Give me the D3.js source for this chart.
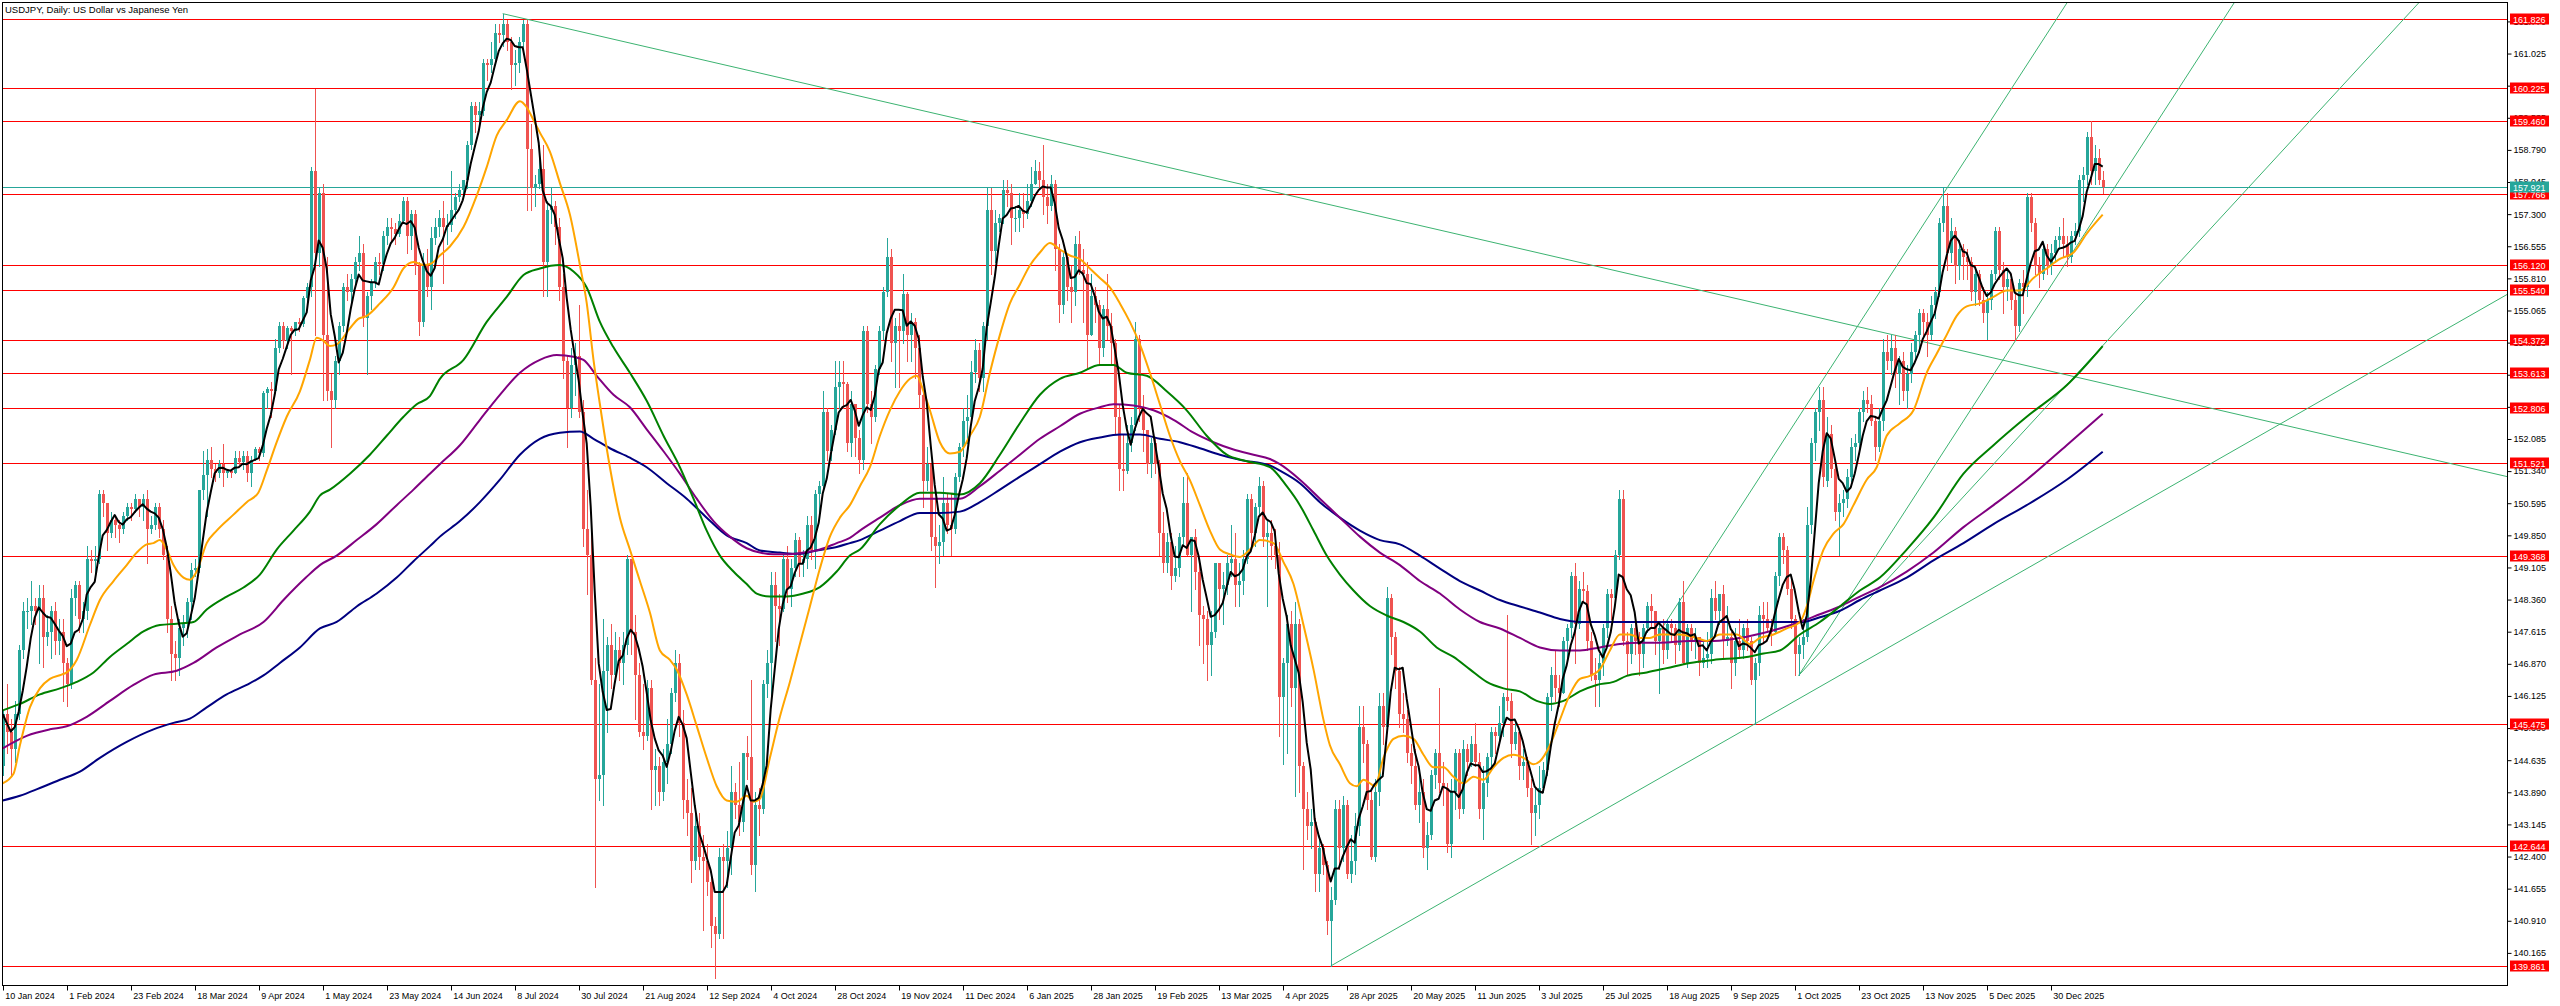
<!DOCTYPE html>
<html><head><meta charset="utf-8">
<script src="https://cdn.jsdelivr.net/npm/d3@7"></script>
<style>
html,body{margin:0;padding:0;background:#fff;}
svg{display:block;}
text{font-family:"Liberation Sans",Arial,sans-serif;}
</style></head><body>
<svg id="chart" width="2560" height="1006"></svg>
<script>
const title = "USDJPY, Daily:  US Dollar vs Japanese Yen";
const dateLabels = ["10 Jan 2024","1 Feb 2024","23 Feb 2024","18 Mar 2024","9 Apr 2024","1 May 2024","23 May 2024","14 Jun 2024","8 Jul 2024","30 Jul 2024","21 Aug 2024","12 Sep 2024","4 Oct 2024","28 Oct 2024","19 Nov 2024","11 Dec 2024","6 Jan 2025","28 Jan 2025","19 Feb 2025","13 Mar 2025","4 Apr 2025","28 Apr 2025","20 May 2025","11 Jun 2025","3 Jul 2025","25 Jul 2025","18 Aug 2025","9 Sep 2025","1 Oct 2025","23 Oct 2025","13 Nov 2025","5 Dec 2025","30 Dec 2025"];
const priceTicks = [140.165,140.910,141.655,142.400,143.145,143.890,144.635,145.380,146.125,146.870,147.615,148.360,149.105,149.850,150.595,151.340,152.085,152.830,153.575,154.320,155.065,155.810,156.555,157.300,158.045,158.790,159.535,160.280,161.025,161.770];
const levels = [161.826,160.225,159.460,157.766,156.120,155.540,154.372,153.613,152.806,151.521,149.368,145.475,142.644,139.861];
const lastPrice = 157.921;

// daily candles [open, high, low, close]
const m2024_01 = [[144.5,145.8,144.3,145.7],[145.7,146.4,144.8,145.3],[145.3,145.6,144.3,144.9],[144.9,146.0,144.6,145.7],[145.7,147.3,145.6,147.2],[147.2,148.3,147.0,148.1],[148.1,148.4,147.7,148.1],[148.1,148.8,147.8,148.2],[148.2,148.4,147.8,148.1],[148.1,148.7,146.9,148.4],[148.4,148.7,146.8,147.5],[147.5,148.0,147.3,147.6],[147.6,148.2,147.0,148.1],[148.1,148.3,147.1,147.4],[147.4,147.9,147.1,147.6],[147.6,147.9,146.0,146.9]];
const m2024_02 = [[146.9,147.0,145.9,146.4],[146.4,148.6,146.3,148.4],[148.4,148.8,148.0,148.7],[148.7,148.8,147.6,147.9],[147.9,148.3,147.6,148.1],[148.1,149.6,147.9,149.3],[149.3,149.5,149.0,149.25],[149.25,149.6,149.0,149.3],[149.3,150.9,149.2,150.8],[150.8,150.9,150.3,150.6],[150.6,150.6,149.5,149.9],[149.9,150.4,149.8,150.2],[150.2,150.3,149.8,150.1],[150.1,150.2,149.7,150.0],[150.0,150.4,149.9,150.3],[150.3,150.6,150.2,150.5],[150.5,150.6,150.2,150.45],[150.45,150.8,150.4,150.7],[150.7,150.7,150.3,150.5],[150.5,150.8,150.2,150.7],[150.7,150.9,149.2,150.0]];
const m2024_03 = [[150.0,150.3,149.9,150.1],[150.1,150.6,150.0,150.5],[150.5,150.6,149.8,150.0],[150.0,150.2,149.3,149.4],[149.4,149.6,147.6,147.9],[147.9,148.2,146.5,147.1],[147.1,147.4,146.5,147.0],[147.0,147.9,146.6,147.7],[147.7,148.0,147.3,147.8],[147.8,148.4,147.5,148.3],[148.3,149.2,147.9,149.05],[149.05,149.3,148.9,149.1],[149.1,150.9,149.0,150.9],[150.9,151.8,150.7,151.25],[151.25,151.85,150.3,151.6],[151.6,151.9,151.2,151.4],[151.4,151.5,151.1,151.3],[151.3,151.6,151.2,151.5],[151.5,151.97,151.0,151.3],[151.3,151.4,151.2,151.35],[151.35,151.4,151.2,151.3]];
const m2024_04 = [[151.3,151.8,151.3,151.65],[151.65,151.8,151.5,151.55],[151.55,151.8,151.4,151.7],[151.7,151.8,151.1,151.3],[151.3,151.7,151.0,151.6],[151.6,151.9,151.6,151.85],[151.85,151.9,151.6,151.75],[151.75,153.2,151.7,153.15],[153.15,153.3,152.8,153.25],[153.25,153.4,152.6,153.2],[153.2,154.4,153.2,154.2],[154.2,154.8,154.1,154.7],[154.7,154.8,154.2,154.35],[154.35,154.7,154.2,154.65],[154.65,154.7,153.6,154.6],[154.6,154.8,154.5,154.8],[154.8,154.9,154.6,154.75],[154.75,155.4,154.7,155.35],[155.35,155.7,155.1,155.6],[155.6,158.4,155.4,158.3],[158.3,160.2,154.5,156.4],[156.4,157.9,156.1,157.8]];
const m2024_05 = [[157.8,158.0,153.0,154.5],[154.5,156.3,153.0,153.2],[153.2,153.6,151.9,153.0],[153.0,154.0,152.8,153.9],[153.9,154.8,153.6,154.7],[154.7,155.7,154.6,155.6],[155.6,155.9,155.3,155.5],[155.5,155.9,155.2,155.8],[155.8,156.3,155.6,156.2],[156.2,156.8,156.0,156.4],[156.4,156.6,154.7,154.9],[154.9,155.5,153.6,155.4],[155.4,155.8,155.1,155.7],[155.7,156.3,155.6,156.2],[156.2,156.4,155.9,156.15],[156.15,156.9,156.0,156.8],[156.8,157.2,156.6,157.0],[157.0,157.2,156.7,156.95],[156.95,157.1,156.6,156.85],[156.85,157.3,156.8,157.15],[157.15,157.7,157.1,157.6],[157.6,157.7,156.4,156.8],[156.8,157.4,156.5,157.3]];
const m2024_06 = [[157.3,157.4,155.9,156.1],[156.1,156.2,154.5,154.8],[154.8,156.4,154.7,156.1],[156.1,156.5,155.4,155.6],[155.6,157.0,155.1,156.75],[156.75,157.2,156.6,157.0],[157.0,157.4,156.8,157.2],[157.2,157.6,155.7,157.0],[157.0,157.3,156.6,157.05],[157.05,158.3,156.9,157.4],[157.4,157.8,157.2,157.7],[157.7,158.0,157.6,157.85],[157.85,158.1,157.8,158.1],[158.1,159.0,157.9,158.9],[158.9,159.9,158.8,159.8],[159.8,159.9,159.2,159.6],[159.6,159.9,159.4,159.7],[159.7,160.9,159.6,160.8],[160.8,160.9,160.4,160.75],[160.75,161.3,160.6,160.9]];
const m2024_07 = [[160.9,161.7,160.8,161.5],[161.5,161.7,161.3,161.45],[161.45,161.95,161.2,161.7],[161.7,161.8,161.1,161.3],[161.3,161.4,160.2,160.75],[160.75,161.1,160.3,160.8],[160.8,161.4,160.6,161.3],[161.3,161.8,161.2,161.7],[161.7,161.8,157.4,158.8],[158.8,159.4,157.4,157.9],[157.9,158.2,157.5,158.0],[158.0,158.9,157.9,158.35],[158.35,158.9,155.4,156.2],[156.2,157.6,155.4,157.4],[157.4,157.9,157.1,157.5],[157.5,157.6,156.6,157.0],[157.0,157.2,155.3,155.6],[155.6,155.9,153.5,153.9],[153.9,154.0,151.9,152.8],[152.8,154.2,152.6,153.8],[153.8,154.3,153.1,154.0],[154.0,155.2,152.6,152.7],[152.7,153.0,149.6,150.0]];
const m2024_08 = [[150.0,150.9,148.5,149.4],[149.4,150.0,146.4,146.5],[146.5,147.0,141.7,144.2],[144.2,146.4,143.7,144.3],[144.3,147.9,143.6,146.7],[146.7,147.5,145.3,147.3],[147.3,147.8,146.3,146.6],[146.6,147.6,146.5,147.2],[147.2,147.5,146.5,146.9],[146.9,147.6,146.4,147.3],[147.3,149.4,147.1,149.3],[149.3,149.3,147.1,147.6],[147.6,148.0,145.6,146.6],[146.6,146.9,145.2,145.3],[145.3,146.4,144.9,145.2],[145.2,146.5,145.1,146.3],[146.3,146.5,143.5,144.4],[144.4,144.9,143.6,144.5],[144.5,144.7,143.6,143.9],[143.9,144.9,143.7,144.6],[144.6,145.6,144.1,145.0],[145.0,146.3,144.8,146.2]];
const m2024_09 = [[146.2,147.2,146.0,146.9],[146.9,147.1,145.2,145.5],[145.5,145.8,143.3,143.7],[143.7,144.2,142.9,143.4],[143.4,144.0,141.8,142.3],[142.3,143.6,142.1,143.1],[143.1,143.4,142.1,142.4],[142.4,142.9,140.7,142.3],[142.3,142.7,141.5,141.8],[141.8,141.9,140.3,140.8],[140.8,141.0,139.58,140.6],[140.6,142.6,140.5,142.4],[142.4,142.7,140.5,142.3],[142.3,143.0,141.7,142.6],[142.6,144.5,142.0,143.9],[143.9,144.1,143.3,143.6],[143.6,144.6,142.9,143.2],[143.2,144.8,143.0,144.8],[144.8,145.2,144.2,144.7],[144.7,146.5,142.0,142.2],[142.2,143.9,141.6,143.6]];
const m2024_10 = [[143.6,144.0,142.9,143.5],[143.5,146.5,143.4,146.4],[146.4,147.2,146.1,146.9],[146.9,149.0,145.9,148.7],[148.7,149.0,147.4,148.2],[148.2,148.5,147.3,148.15],[148.15,149.4,148.1,149.3],[149.3,149.6,148.3,148.6],[148.6,149.3,148.2,149.1],[149.1,149.9,148.9,149.75],[149.75,149.8,148.9,149.2],[149.2,149.5,148.9,149.3],[149.3,150.3,149.1,150.1],[150.1,150.3,149.3,149.5],[149.5,150.9,149.1,150.8],[150.8,151.1,150.3,151.0],[151.0,153.2,150.9,152.7],[152.7,152.8,151.6,151.8],[151.8,152.4,151.6,152.3],[152.3,153.9,152.2,153.3],[153.3,153.9,152.8,153.4],[153.4,153.9,152.8,153.35],[153.35,153.4,151.8,152.0]];
const m2024_11 = [[152.0,153.2,151.7,152.9],[152.9,152.9,151.7,152.1],[152.1,152.3,151.3,151.6],[151.6,154.7,151.4,154.6],[154.6,154.7,152.7,152.9],[152.9,153.2,152.0,152.6],[152.6,153.8,152.5,153.7],[153.7,154.7,153.6,154.6],[154.6,155.6,154.4,155.5],[155.5,156.75,155.4,156.3],[156.3,156.5,153.9,154.3],[154.3,154.9,153.3,154.7],[154.7,155.0,153.3,154.6],[154.6,155.9,154.3,155.45],[155.45,155.5,153.9,154.5],[154.5,155.0,153.9,154.8],[154.8,154.9,153.5,154.2],[154.2,154.5,152.8,153.1],[153.1,153.2,150.5,151.1],[151.1,151.9,150.9,151.5],[151.5,151.5,149.5,149.8]];
const m2024_12 = [[149.8,150.7,148.65,149.6],[149.6,150.1,149.2,149.7],[149.7,151.2,149.4,150.6],[150.6,150.8,149.9,150.1],[150.1,150.8,149.4,150.0],[150.0,151.3,149.9,151.2],[151.2,152.0,151.1,151.9],[151.9,152.8,151.7,152.5],[152.5,153.1,152.0,152.6],[152.6,153.9,152.6,153.65],[153.65,154.4,153.4,154.15],[154.15,154.3,153.2,153.5],[153.5,154.8,153.2,154.7],[154.7,157.9,154.4,157.4],[157.4,157.9,155.9,156.45],[156.45,157.4,156.2,157.1],[157.1,157.3,156.9,157.2],[157.2,158.1,157.1,157.85],[157.85,158.1,157.5,157.8],[157.8,158.0,156.6,157.2],[157.2,157.5,156.9,157.2]];
const m2025_01 = [[157.2,157.8,156.9,157.4],[157.4,157.8,157.0,157.3],[157.3,158.0,157.2,157.6],[157.6,158.4,157.5,158.0],[158.0,158.55,158.0,158.3],[158.3,158.5,157.9,158.1],[158.1,158.9,157.3,157.7],[157.7,158.0,157.1,157.5],[157.5,158.2,157.4,158.0],[158.0,158.1,156.0,156.5],[156.5,156.6,154.8,155.2],[155.2,156.4,155.0,156.3],[156.3,156.4,155.3,155.6],[155.6,156.1,154.8,155.5],[155.5,156.8,155.2,156.6],[156.6,156.9,155.9,156.0],[156.0,156.5,154.8,155.9],[155.9,156.2,153.7,154.5],[154.5,155.9,154.5,155.4],[155.4,155.6,154.8,155.2],[155.2,155.3,153.8,154.2],[154.2,155.2,154.0,155.1]];
const m2025_02 = [[155.1,155.9,154.4,154.7],[154.7,155.0,153.8,154.3],[154.3,154.4,152.2,152.6],[152.6,152.9,150.9,151.4],[151.4,152.2,150.9,151.35],[151.35,152.4,151.3,152.0],[152.0,152.6,151.8,152.4],[152.4,154.8,152.3,154.4],[154.4,154.5,152.5,152.8],[152.8,153.1,151.8,152.3],[152.3,152.3,151.3,151.5],[151.5,152.1,151.2,152.0],[152.0,152.1,151.3,151.5],[151.5,151.6,149.4,149.9],[149.9,150.4,149.0,149.2],[149.2,149.9,149.0,149.7],[149.7,149.9,148.6,148.9],[148.9,149.6,148.8,149.1],[149.1,149.9,148.9,149.8],[149.8,151.2,149.6,150.6]];
const m2025_03 = [[150.6,151.3,149.4,149.4],[149.4,149.8,148.1,149.8],[149.8,150.0,148.6,149.0],[149.0,149.3,147.3,148.0],[148.0,148.2,146.9,147.9],[147.9,148.1,146.5,147.3],[147.3,148.1,146.6,147.6],[147.6,149.2,147.5,149.2],[149.2,149.2,147.9,148.6],[148.6,149.0,147.8,148.7],[148.7,149.4,148.5,149.2],[149.2,150.1,148.9,149.3],[149.3,149.9,148.2,148.7],[148.7,149.2,148.2,148.8],[148.8,149.5,148.5,149.3],[149.3,150.8,149.2,150.7],[150.7,150.8,149.6,149.9],[149.9,150.6,149.6,150.5],[150.5,151.2,150.3,151.0],[151.0,151.1,149.6,149.8],[149.8,150.2,148.2,149.9]];
const m2025_04 = [[149.9,150.2,149.3,149.6],[149.6,150.0,149.1,149.4],[149.4,149.7,145.2,146.1],[146.1,147.0,144.55,146.9],[146.9,148.0,144.8,147.8],[147.8,148.1,145.9,146.3],[146.3,148.3,143.8,147.8],[147.8,147.9,143.9,144.5],[144.5,144.6,142.1,143.5],[143.5,143.9,142.8,143.1],[143.1,143.5,142.6,143.2],[143.2,143.3,141.6,142.0],[142.0,142.9,141.6,142.6],[142.6,142.7,142.0,142.2],[142.2,142.3,140.6,140.9],[140.9,141.7,139.861,141.4],[141.4,143.7,141.3,143.5],[143.5,143.7,142.1,142.6],[142.6,143.8,142.3,143.6],[143.6,143.7,141.9,142.0],[142.0,142.9,141.8,142.3],[142.3,143.4,142.0,143.1]];
const m2025_05 = [[143.1,145.9,142.9,145.4],[145.4,145.9,144.6,145.0],[145.0,145.1,143.5,143.7],[143.7,144.0,142.35,142.4],[142.4,144.2,142.3,143.9],[143.9,146.2,143.6,145.9],[145.9,146.2,145.0,145.4],[145.4,148.65,145.4,148.4],[148.4,148.5,147.1,147.5],[147.5,147.6,146.3,146.7],[146.7,146.8,145.4,145.7],[145.7,146.2,145.3,145.6],[145.6,145.8,144.6,144.8],[144.8,145.0,144.1,144.5],[144.5,144.9,143.5,143.6],[143.6,144.3,143.2,143.9],[143.9,144.2,142.4,142.6],[142.6,143.2,142.1,142.9],[142.9,144.4,142.8,144.3],[144.3,144.9,144.0,144.8],[144.8,146.3,143.9,144.1],[144.1,144.6,143.6,144.0]];
const m2025_06 = [[144.0,144.1,142.5,142.7],[142.7,144.2,142.4,143.9],[143.9,144.9,143.5,144.8],[144.8,144.9,143.3,143.5],[143.5,145.1,143.4,144.9],[144.9,145.0,144.3,144.6],[144.6,145.2,144.5,145.0],[145.0,145.5,144.5,144.6],[144.6,144.8,143.3,143.5],[143.5,144.5,142.8,144.1],[144.1,144.8,143.8,144.7],[144.7,145.4,144.5,145.3],[145.3,145.4,144.8,145.2],[145.2,145.9,145.0,145.5],[145.5,146.2,145.2,146.1],[146.1,148.0,145.8,146.0],[146.0,146.2,144.7,145.0],[145.0,145.5,144.9,145.3],[145.3,145.3,144.2,144.5],[144.5,144.9,144.2,144.6],[144.6,144.7,143.8,144.0]];
const m2025_07 = [[144.0,144.2,142.7,143.4],[143.4,144.0,142.9,143.6],[143.6,144.5,143.3,144.0],[144.0,144.6,143.9,144.4],[144.4,146.2,144.3,146.1],[146.1,146.8,145.8,146.6],[146.6,147.2,146.0,146.3],[146.3,146.6,145.9,146.2],[146.2,147.5,146.2,147.4],[147.4,147.8,146.9,147.7],[147.7,149.0,147.5,148.9],[148.9,149.2,146.9,147.8],[147.8,148.8,147.7,148.6],[148.6,149.0,148.3,148.55],[148.55,148.7,147.2,147.4],[147.4,147.6,146.5,146.6],[146.6,147.0,145.9,146.5],[146.5,147.1,145.9,146.9],[146.9,147.8,146.6,147.7],[147.7,148.6,147.5,148.5],[148.5,148.6,147.9,148.4],[148.4,149.5,148.3,149.4],[149.4,150.9,149.3,150.7]];
const m2025_08 = [[150.7,150.9,147.3,147.4],[147.4,147.6,146.6,147.1],[147.1,147.8,146.9,147.7],[147.7,148.0,147.1,147.4],[147.4,147.6,146.6,147.1],[147.1,147.8,146.8,147.7],[147.7,148.3,147.6,148.2],[148.2,148.5,147.7,148.1],[148.1,148.1,147.1,147.4],[147.4,147.8,146.2,147.7],[147.7,147.9,146.9,147.2],[147.2,147.9,147.0,147.8],[147.8,147.9,147.4,147.7],[147.7,147.8,146.9,147.3],[147.3,148.4,147.2,148.3],[148.3,148.8,146.9,146.9],[146.9,147.8,146.8,147.7],[147.7,147.8,147.2,147.4],[147.4,147.7,147.0,147.5],[147.5,147.5,146.6,146.9],[146.9,147.4,146.8,147.0]];
const m2025_09 = [[147.0,147.6,146.8,147.1],[147.1,148.6,146.9,148.4],[148.4,148.8,147.9,148.1],[148.1,148.5,147.8,148.5],[148.5,148.7,147.0,147.4],[147.4,148.2,147.3,147.5],[147.5,147.6,146.3,146.9],[146.9,147.7,146.6,147.4],[147.4,147.9,147.0,147.2],[147.2,147.8,147.0,147.7],[147.7,147.9,147.2,147.4],[147.4,147.5,146.4,146.5],[146.5,147.0,145.475,146.9],[146.9,148.2,146.6,148.0],[148.0,148.3,147.4,147.9],[147.9,148.3,147.6,147.7],[147.7,147.9,147.3,147.6],[147.6,149.0,147.6,148.9],[148.9,149.9,148.7,149.8],[149.8,149.9,149.2,149.5],[149.5,149.6,148.5,148.6],[148.6,148.9,147.7,147.9]];
const m2025_10 = [[147.9,148.0,146.6,147.1],[147.1,147.5,146.6,147.3],[147.3,147.9,147.0,147.5],[147.5,150.5,147.4,150.1],[150.1,152.1,149.9,152.0],[152.0,152.8,151.6,152.7],[152.7,153.3,152.3,153.0],[153.0,153.3,151.0,151.2],[151.1,152.6,151.0,152.2],[152.2,152.4,151.2,151.4],[151.4,151.6,150.2,150.4],[150.4,150.8,149.4,150.6],[150.6,150.9,150.3,150.7],[150.7,151.4,150.5,151.2],[151.2,152.1,151.1,151.9],[151.9,152.2,151.6,152.0],[152.0,152.8,151.8,152.7],[152.7,153.2,152.5,153.0],[153.0,153.3,152.7,152.9],[152.9,153.1,152.4,152.5],[152.5,152.6,151.6,151.9],[151.9,152.8,151.8,152.5],[152.5,154.4,152.3,154.1]];
const m2025_11 = [[154.1,154.5,153.7,153.9],[153.9,154.5,153.6,154.2],[154.2,154.5,153.3,153.6],[153.6,154.0,152.9,153.9],[153.9,154.1,153.0,153.2],[153.2,153.8,152.8,153.6],[153.6,154.3,153.4,154.1],[154.1,154.6,153.9,154.5],[154.5,155.1,154.1,155.0],[155.0,155.1,154.5,154.8],[154.8,155.0,154.0,154.5],[154.5,155.4,154.4,155.2],[155.2,155.6,154.9,155.5],[155.5,157.2,155.4,157.1],[157.1,157.9,156.9,157.5],[157.5,157.8,156.0,156.4],[156.4,157.2,156.2,156.9],[156.9,157.0,155.7,156.1],[156.1,156.7,155.8,156.5],[156.5,156.6,155.8,156.3],[156.3,156.5,155.8,156.2]];
const m2025_12 = [[156.2,156.3,155.3,155.5],[155.5,156.0,155.2,155.9],[155.9,156.0,155.2,155.3],[155.3,155.6,154.8,155.0],[155.0,155.5,154.4,155.3],[155.3,156.0,155.1,155.9],[155.9,157.0,155.8,156.9],[156.9,157.0,155.8,156.0],[156.0,156.2,155.0,155.6],[155.6,156.0,155.3,155.8],[155.8,155.9,155.1,155.3],[155.3,155.5,154.4,154.7],[154.7,155.8,154.6,155.7],[155.7,156.0,155.0,155.6],[155.6,157.8,155.4,157.7],[157.7,157.8,156.9,157.1],[157.1,157.2,155.9,156.1],[156.1,156.3,155.6,155.9],[155.9,156.6,155.8,156.5],[156.5,156.6,155.9,156.1],[156.1,156.6,155.9,156.4],[156.4,156.8,156.2,156.7]];
const m2026_01 = [[156.7,157.0,156.5,156.8],[156.8,157.2,156.3,156.6],[156.6,156.8,156.1,156.3],[156.3,156.9,156.2,156.8],[156.8,157.1,156.6,156.9],[156.9,158.2,156.8,158.1],[158.1,158.4,157.6,158.2],[158.2,159.2,158.0,159.1],[159.1,159.46,158.0,158.3],[158.3,158.9,158.0,158.6],[158.6,158.8,158.0,158.1],[158.1,158.3,157.8,157.921]];

// moving averages: [bar index, price]
const orangeMA = [[0,144.10],[2.7,144.32],[4.3,144.98],[6.8,145.86],[9.3,146.30],[11.8,146.52],[14.75,146.62],[16,146.67],[18.5,146.96],[21.8,147.77],[24.3,148.35],[27.7,148.79],[31,149.16],[33.5,149.45],[36,149.64],[37.7,149.67],[39.3,149.74],[41,149.52],[42.7,149.16],[45.2,148.87],[46.8,148.82],[48.5,149.01],[51,149.67],[53.5,149.96],[57.7,150.33],[61,150.62],[63.9,150.84],[66,151.35],[68.5,152.01],[71,152.60],[74.3,153.19],[76.8,153.92],[78.5,154.43],[80.2,154.36],[81.8,154.24],[83.5,154.28],[86.8,154.65],[88.9,154.87],[91,154.94],[94.3,155.23],[97.7,155.60],[100.2,156.04],[102.7,156.19],[105.2,156.12],[107,156.15],[109.3,156.34],[111.8,156.55],[115.2,157.0],[118.5,157.73],[121,158.39],[123.5,159.12],[126,159.48],[129.3,159.92],[131,159.78],[132.7,159.48],[134.3,159.19],[136.8,158.75],[139.3,158.02],[141.8,157.29],[144.3,156.12],[146,155.24],[147.7,153.92],[149.3,152.89],[151.8,151.43],[154.3,150.26],[156.8,149.52],[159.3,148.79],[161.8,148.06],[164.3,147.18],[166.8,146.96],[168.5,146.74],[171,146.16],[173.5,145.43],[176,144.69],[178.5,144.03],[181,143.70],[183.5,143.67],[186,143.81],[187.7,143.67],[189.3,143.74],[191.8,144.69],[194.3,145.64],[196.8,146.45],[199.3,147.33],[201.8,148.20],[204.3,149.08],[206.8,149.82],[209.3,150.26],[211.8,150.55],[214.3,150.99],[216.8,151.43],[219.3,152.16],[221.8,152.75],[224.3,153.19],[226.8,153.48],[228.5,153.55],[230.2,153.19],[231.8,152.75],[234.3,152.01],[236.8,151.75],[239.3,151.79],[241.8,152.16],[244.3,152.60],[246.8,153.62],[249.3,154.50],[251.8,155.23],[254.3,155.67],[256.8,156.11],[259.3,156.41],[261.8,156.63],[264.3,156.48],[266.8,156.34],[269.3,156.26],[271.8,156.04],[274.3,155.82],[276.8,155.60],[279.3,155.23],[281.8,154.80],[284.3,154.28],[286.8,153.62],[289.3,152.89],[291.8,152.16],[294.3,151.57],[296.8,151.13],[299.3,150.55],[301.8,149.96],[304.3,149.52],[306.8,149.41],[309.3,149.35],[311.8,149.52],[314.3,149.74],[317.7,149.67],[320.2,149.23],[322.7,148.72],[325.2,147.77],[327.7,146.74],[330.2,145.57],[331.8,144.98],[334.3,144.54],[336.8,144.10],[338.5,144.03],[340.2,144.18],[341.8,144.10],[343,144.03],[345.2,144.69],[347.7,145.13],[350.2,145.20],[352.7,145.13],[355.2,144.76],[357.7,144.47],[360.2,144.47],[362.7,144.25],[365.2,144.10],[367.7,144.25],[370.2,144.18],[372.7,144.47],[375.2,144.69],[377.7,144.76],[380.2,144.69],[382.7,144.54],[384.3,144.61],[386.8,144.98],[389.3,145.57],[391.8,146.16],[394.3,146.52],[396.8,146.59],[399.3,146.74],[401.8,147.18],[404.3,147.55],[406.8,147.55],[409.3,147.47],[411.8,147.47],[414.3,147.55],[416.8,147.55],[419.3,147.55],[423.5,147.47],[426,147.40],[429.3,147.55],[433.5,147.55],[436.8,147.33],[439.3,147.47],[442.7,147.55],[446,147.69],[449.3,147.84],[451,148.20],[452.7,148.79],[455.2,149.52],[457.7,149.89],[460.2,150.11],[462.7,150.55],[466,151.14],[468.5,151.43],[471,152.16],[474.3,152.45],[477.7,152.75],[481,153.62],[483.5,154.06],[486,154.50],[488.5,154.94],[491,155.16],[494.3,155.23],[497.7,155.38],[501,155.53],[504.3,155.53],[507.7,155.82],[511,156.04],[514.3,156.26],[517.7,156.41],[521,156.85],[525,157.29]];
const greenMA = [[0,145.79],[4.3,145.94],[9.3,146.16],[14.3,146.30],[18.5,146.45],[22.7,146.67],[26.8,147.03],[31,147.33],[35.2,147.62],[39.3,147.77],[43.5,147.80],[47.7,147.84],[51,148.13],[56,148.43],[60.2,148.64],[64.3,148.94],[68.5,149.52],[72.7,149.96],[76.8,150.40],[79.3,150.77],[81.8,150.91],[86.8,151.28],[91.8,151.72],[96,152.16],[100.2,152.60],[103.5,152.89],[106.8,153.08],[109.3,153.48],[115.2,153.92],[121,154.80],[126,155.38],[130.2,155.89],[134.3,156.04],[139.3,156.12],[142.7,155.97],[146,155.60],[149.3,154.80],[152.7,154.21],[156.8,153.62],[161,152.97],[165.2,152.16],[169.3,151.43],[172.7,150.70],[176,149.96],[179.3,149.38],[182.7,149.01],[186,148.72],[188.5,148.50],[191.8,148.43],[195.9,148.43],[200.2,148.50],[204.3,148.65],[208.5,149.01],[211.8,149.38],[214.3,149.52],[219.3,150.11],[224.3,150.55],[229.3,150.84],[234.3,150.84],[239.3,150.80],[244.3,151.06],[249.3,151.72],[254.3,152.45],[259.3,153.11],[264.3,153.48],[269.3,153.62],[274.3,153.80],[277.7,153.80],[281,153.62],[286,153.55],[291,153.19],[296,152.75],[301,152.16],[306,151.72],[311,151.57],[316.8,151.43],[321,150.99],[324.3,150.55],[327.7,149.96],[331,149.38],[334.3,148.94],[337.7,148.57],[341.8,148.21],[346,147.99],[350.2,147.84],[354.3,147.62],[358.5,147.25],[362.7,147.03],[366.8,146.74],[371,146.45],[375.2,146.30],[379.3,146.23],[383.5,146.01],[386.8,145.94],[390.2,146.01],[394.3,146.23],[398.5,146.38],[402.7,146.45],[406,146.59],[411,146.67],[416,146.77],[421.8,146.89],[427.7,146.96],[436,147.03],[440.2,147.11],[444.3,147.18],[449.3,147.55],[454.3,147.84],[459.3,148.20],[464.3,148.57],[469.3,148.87],[476,149.52],[482.7,150.26],[490.2,151.28],[497.7,151.94],[506,152.60],[516,153.33],[525,154.24]];
const purpleMA = [[0,144.91],[6,145.20],[11.8,145.35],[16,145.42],[21,145.64],[26.8,146.01],[32.7,146.38],[37.7,146.62],[43.5,146.71],[47.7,146.89],[53.5,147.25],[59.3,147.55],[65.2,147.84],[70.2,148.35],[75.8,148.87],[79.3,149.16],[83.5,149.38],[88.5,149.74],[93.5,150.11],[98.5,150.55],[102.7,150.91],[106.8,151.28],[109.3,151.50],[114.3,151.94],[119.3,152.53],[124.3,153.11],[129.3,153.62],[134.3,153.92],[138.5,154.03],[142.7,153.99],[145.2,153.92],[148.5,153.55],[152.7,153.11],[156.8,152.82],[161,152.31],[165.2,151.80],[169.3,151.28],[173.5,150.70],[177.7,150.18],[181.8,149.82],[186,149.55],[189.3,149.45],[192.7,149.41],[195.9,149.41],[200.2,149.45],[204.3,149.52],[208.5,149.67],[211.8,149.79],[214.3,149.96],[219.3,150.26],[224.3,150.55],[229.3,150.70],[234.3,150.70],[239.3,150.70],[244.3,150.99],[249.3,151.35],[254.3,151.72],[259.3,152.09],[264.3,152.38],[269.3,152.67],[274.3,152.82],[277.7,152.89],[282.7,152.86],[287.7,152.75],[292.7,152.53],[297.7,152.23],[302.7,152.01],[307.7,151.84],[312.7,151.72],[316.8,151.62],[319.3,151.50],[324.3,151.14],[329.3,150.70],[334.3,150.26],[339.3,149.82],[344.3,149.45],[349.3,149.16],[354.3,148.79],[359.3,148.50],[364.3,148.13],[369.3,147.84],[374.3,147.69],[379.3,147.47],[384.3,147.25],[389.3,147.18],[394.3,147.18],[399.3,147.25],[404.3,147.33],[409.3,147.36],[414.3,147.36],[421.8,147.40],[427.7,147.40],[436,147.50],[444.3,147.69],[449.3,147.84],[454.3,148.02],[459.3,148.20],[464.3,148.43],[469.3,148.65],[476,149.01],[482.7,149.45],[490.2,150.04],[497.7,150.55],[506,151.14],[516,151.94],[525,152.67]];
const navyMA = [[0,143.70],[4.3,143.81],[9.3,143.99],[14.3,144.18],[19.3,144.37],[24.3,144.69],[31,145.06],[37.7,145.35],[42.7,145.50],[46.8,145.60],[51,145.86],[56,146.16],[61,146.38],[65.2,146.60],[69.3,146.89],[74.3,147.25],[79.3,147.69],[83.5,147.84],[88.5,148.20],[93.5,148.50],[98.5,148.87],[102.7,149.25],[106.8,149.60],[109.3,149.82],[114.3,150.18],[119.3,150.62],[124.3,151.14],[129.3,151.72],[134.3,152.09],[139.3,152.23],[144.3,152.26],[147.7,152.09],[151.8,151.87],[156.8,151.65],[161,151.43],[166,151.06],[171,150.70],[176,150.26],[181,149.85],[186,149.67],[189.3,149.50],[194.3,149.45],[199.3,149.42],[203.5,149.50],[208.5,149.58],[211.8,149.67],[214.3,149.74],[219.3,149.96],[224.3,150.18],[229.3,150.37],[234.3,150.37],[239.3,150.40],[244.3,150.62],[249.3,150.91],[254.3,151.21],[259.3,151.50],[264.3,151.79],[269.3,152.01],[274.3,152.12],[279.3,152.19],[284.3,152.19],[289.3,152.09],[294.3,152.01],[299.3,151.87],[304.3,151.72],[309.3,151.60],[316.8,151.47],[319.3,151.35],[324.3,151.06],[329.3,150.62],[334.3,150.26],[339.3,149.96],[344.3,149.74],[349.3,149.64],[354.3,149.38],[359.3,149.08],[364.3,148.79],[369.3,148.57],[374.3,148.35],[379.3,148.20],[384.3,148.06],[389.3,147.91],[394.3,147.84],[399.3,147.84],[404.3,147.84],[409.3,147.84],[414.3,147.84],[421.8,147.84],[436,147.84],[444.3,147.84],[450,147.84],[454.3,147.95],[459.3,148.10],[464.3,148.35],[469.3,148.57],[476,148.87],[482.7,149.27],[490.2,149.67],[497.7,150.11],[506,150.55],[516,151.14],[525,151.79]];

// trend lines: anchor points [bar index, price], drawn as rays to the right
const trendLines = [
  [[125,161.95],[421.8,155.59]],
  [[332,139.861],[438,145.475]],
  [[449,146.6],[526.8,157.75]],
  [[449,146.6],[526.8,154.43]],
  [[414,147.58],[516,162.19]]
];

// ---------------------------------------------------------------
const candles = [].concat(m2024_01,m2024_02,m2024_03,m2024_04,m2024_05,m2024_06,m2024_07,m2024_08,m2024_09,m2024_10,m2024_11,m2024_12,m2025_01,m2025_02,m2025_03,m2025_04,m2025_05,m2025_06,m2025_07,m2025_08,m2025_09,m2025_10,m2025_11,m2025_12,m2026_01);

const W = 2560, H = 1006;
const plotL = 2.5, plotT = 2.5, plotR = 2507.5, plotB = 985.5;
const x = d3.scaleLinear().domain([0, 626]).range([2.7, 2506.7]);
const y = d3.scaleLinear().domain([139.861, 161.826]).range([966, 19]);

const svg = d3.select("#chart");
svg.append("rect").attr("width", W).attr("height", H).attr("fill", "#fff");
svg.append("defs").append("clipPath").attr("id", "clip")
  .append("rect").attr("x", plotL).attr("y", plotT).attr("width", plotR - plotL).attr("height", plotB - plotT);

const plot = svg.append("g").attr("clip-path", "url(#clip)");
const crisp = v => Math.round(v) + 0.5;

// horizontal levels
plot.selectAll("line.level").data(levels).enter().append("line")
  .attr("x1", plotL).attr("x2", plotR)
  .attr("y1", d => crisp(y(d))).attr("y2", d => crisp(y(d)))
  .attr("stroke", "#ff0000").attr("stroke-width", 1);
plot.append("line").attr("x1", plotL).attr("x2", plotR)
  .attr("y1", crisp(y(lastPrice))).attr("y2", crisp(y(lastPrice)))
  .attr("stroke", "#26a69a").attr("stroke-width", 1);

// trend lines
trendLines.forEach(([a, b]) => {
  const x1 = x(a[0]), y1 = y(a[1]), x2 = x(b[0]), y2 = y(b[1]);
  const slope = (y2 - y1) / (x2 - x1);
  const xe = plotR + 5;
  plot.append("line").attr("x1", x1).attr("y1", y1)
    .attr("x2", xe).attr("y2", y1 + slope * (xe - x1))
    .attr("stroke", "#3cb371").attr("stroke-width", 1);
});

// candles
const bull = "#26a69a", bear = "#ef5350";
const cg = plot.append("g");
candles.forEach((c, i) => {
  const [o, h, l, cl] = c;
  const col = cl >= o ? bull : bear;
  const cx = Math.round(x(i));
  cg.append("line").attr("x1", cx + 0.5).attr("x2", cx + 0.5)
    .attr("y1", Math.round(y(h))).attr("y2", Math.round(y(l)) + 1)
    .attr("stroke", col).attr("stroke-width", 1);
  const top = Math.round(y(Math.max(o, cl))), bot = Math.round(y(Math.min(o, cl)));
  cg.append("rect").attr("x", cx - 1).attr("y", top).attr("width", 3)
    .attr("height", Math.max(1, bot - top)).attr("fill", col);
});

// moving averages
const lineGen = d3.line().x(d => x(d[0])).y(d => y(d[1])).curve(d3.curveMonotoneX);
[[navyMA, "#000080"], [purpleMA, "#800080"], [greenMA, "#008000"], [orangeMA, "#ffa500"]].forEach(([arr, col]) => {
  plot.append("path").attr("d", lineGen(arr)).attr("fill", "none")
    .attr("stroke", col).attr("stroke-width", 2).attr("stroke-linejoin", "round");
});
// fast average of closes (5 bars)
const closes = candles.map(c => c[3]);
const fast = closes.map((v, i) => {
  const s = closes.slice(Math.max(0, i - 4), i + 1);
  return [i, d3.mean(s)];
});
plot.append("path").attr("d", d3.line().x(d => x(d[0])).y(d => y(d[1]))(fast))
  .attr("fill", "none").attr("stroke", "#000").attr("stroke-width", 2).attr("stroke-linejoin", "round");

// frame
svg.append("rect").attr("x", plotL).attr("y", plotT).attr("width", plotR - plotL).attr("height", plotB - plotT)
  .attr("fill", "none").attr("stroke", "#000").attr("stroke-width", 1);

// title
svg.append("text").attr("x", 5).attr("y", 13).attr("font-size", "9.5px").attr("fill", "#000").text(title);

// right axis
const ra = svg.append("g").attr("transform", `translate(${plotR},0)`)
  .call(d3.axisRight(y).tickValues(priceTicks).tickSize(4).tickPadding(2).tickFormat(d3.format(".3f")));
ra.select(".domain").remove();
ra.selectAll("line").attr("stroke", "#000");
ra.selectAll("text").attr("font-size", "9px").attr("fill", "#000").attr("font-family", "Liberation Sans, Arial, sans-serif");

// bottom axis
const ba = svg.append("g").attr("transform", `translate(0,${plotB})`)
  .call(d3.axisBottom(x).tickValues(dateLabels.map((d, i) => i * 16)).tickSize(5)
    .tickFormat((d, i) => dateLabels[i]));
ba.select(".domain").remove();
ba.selectAll(".tick line").attr("stroke", "#000").attr("transform", "translate(0.3,0)");
ba.selectAll("text").attr("font-size", "9px").attr("fill", "#000").attr("text-anchor", "start")
  .attr("x", 2).attr("y", 7).attr("dy", "0.71em").attr("font-family", "Liberation Sans, Arial, sans-serif");

// level price tags
const tag = (v, col) => {
  const g = svg.append("g").attr("transform", `translate(2510,${Math.round(y(v))})`);
  g.append("rect").attr("x", 0).attr("y", -5.5).attr("width", 39).attr("height", 11).attr("fill", col);
  g.append("text").attr("x", 3).attr("y", 3.5).attr("font-size", "9px").attr("fill", "#fff").text(v.toFixed(3));
};
levels.forEach(v => tag(v, "#ff0000"));
tag(lastPrice, "#26a69a");
</script>
</body></html>
